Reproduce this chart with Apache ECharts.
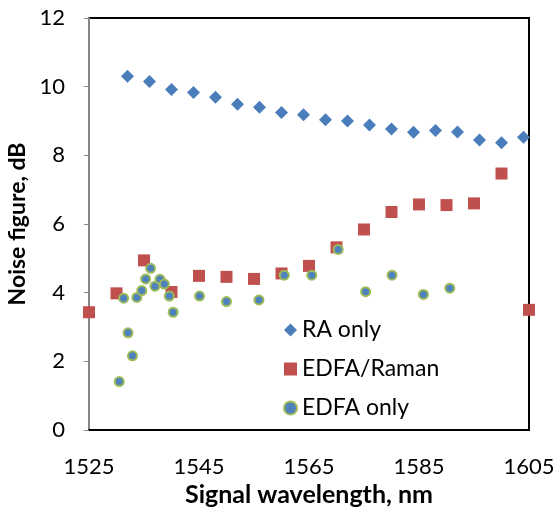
<!DOCTYPE html>
<html>
<head>
<meta charset="utf-8">
<script src="https://cdn.jsdelivr.net/npm/echarts@6/dist/echarts.min.js"></script>
<style>
  html, body { margin: 0; padding: 0; background: #fff; }
  #main { width: 558px; height: 509px; }
</style>
</head>
<body>
<div id="main"></div>
<script>
// RA only
const raX = [1532, 1536, 1540, 1544, 1548, 1552, 1556, 1560, 1564, 1568, 1572, 1576, 1580, 1584, 1588, 1592, 1596, 1600, 1604]
const raY = [10.3, 10.15, 9.92, 9.83, 9.69, 9.49, 9.4, 9.25, 9.18, 9.04, 9.0, 8.88, 8.77, 8.67, 8.72, 8.68, 8.45, 8.37, 8.53]
// EDFA/Raman
const erX = [1525, 1530, 1535, 1540, 1545, 1550, 1555, 1560, 1565, 1570, 1575, 1580, 1585, 1590, 1595, 1600, 1605]
const erY = [3.43, 3.98, 4.94, 4.02, 4.49, 4.46, 4.4, 4.56, 4.78, 5.32, 5.84, 6.35, 6.57, 6.55, 6.6, 7.47, 3.5]
// EDFA only
const edX = [1530.5, 1531.3, 1532.1, 1532.9, 1533.7, 1534.6, 1535.3, 1536.2, 1537.0, 1537.9, 1538.7, 1539.6, 1540.3, 1545.1, 1550.0, 1555.9, 1560.5, 1565.5, 1570.3, 1575.3, 1580.1, 1585.8, 1590.6]
const edY = [1.41, 3.84, 2.83, 2.16, 3.86, 4.06, 4.4, 4.71, 4.19, 4.39, 4.25, 3.9, 3.43, 3.9, 3.74, 3.79, 4.51, 4.51, 5.26, 4.03, 4.51, 3.95, 4.13]

const xTicks = [1525, 1545, 1565, 1585, 1605]
const yTicks = [0, 2, 4, 6, 8, 10, 12]

const pairs = (xs, ys) => xs.map((x, i) => [x, ys[i]])
const font = 'Lato, "Open Sans", sans-serif'

const myChart = echarts.init(document.getElementById('main'))
myChart.setOption({
  animation: false,
  textStyle: { fontFamily: font, color: '#000' },
  grid: {
    left: 89, top: 18, right: 29, bottom: 79,
    outerBoundsMode: 'none',
    show: true, borderColor: '#000', borderWidth: 2
  },
  legend: {
    orient: 'vertical',
    left: 278, top: 312,
    itemWidth: 13, itemHeight: 13,
    itemGap: 13,
    textStyle: { fontSize: 23, lineHeight: 26, fontFamily: font, color: '#000' },
    data: ['RA only', 'EDFA/Raman', 'EDFA only']
  },
  xAxis: {
    type: 'value',
    min: xTicks[0], max: xTicks[xTicks.length - 1], interval: 20,
    name: 'Signal wavelength, nm',
    nameLocation: 'middle', nameGap: 45,
    nameTextStyle: { fontSize: 25, fontWeight: 'bold', color: '#000' },
    axisLine: { lineStyle: { color: '#000', width: 2 } },
    axisTick: { show: false },
    splitLine: { show: false },
    axisLabel: { fontSize: 22, color: '#000', margin: 26, formatter: v => String(v) }
  },
  yAxis: {
    type: 'value',
    min: yTicks[0], max: yTicks[yTicks.length - 1], interval: 2,
    name: 'Noise figure, dB',
    nameLocation: 'middle', nameGap: 58,
    nameTextStyle: { fontSize: 23, fontWeight: 'bold', color: '#000' },
    axisLine: { show: true, lineStyle: { color: '#868686', width: 2 } },
    axisTick: { show: true, length: 5, lineStyle: { color: '#868686', width: 1 } },
    splitLine: { show: false },
    axisLabel: { fontSize: 22, color: '#000', margin: 24 }
  },
  series: [
    {
      name: 'RA only', type: 'scatter', symbol: 'diamond', symbolSize: 13,
      clip: false,
      itemStyle: { color: '#4A7EBB', opacity: 1 },
      data: pairs(raX, raY)
    },
    {
      name: 'EDFA/Raman', type: 'scatter', symbol: 'rect', symbolSize: 12,
      clip: false,
      itemStyle: { color: '#C0504D', opacity: 1 },
      data: pairs(erX, erY)
    },
    {
      name: 'EDFA only', type: 'scatter', symbol: 'circle', symbolSize: 9,
      clip: false,
      itemStyle: { color: '#4F81BD', borderColor: '#9BBB59', borderWidth: 2, opacity: 1 },
      data: pairs(edX, edY)
    }
  ]
})
</script>
</body>
</html>
